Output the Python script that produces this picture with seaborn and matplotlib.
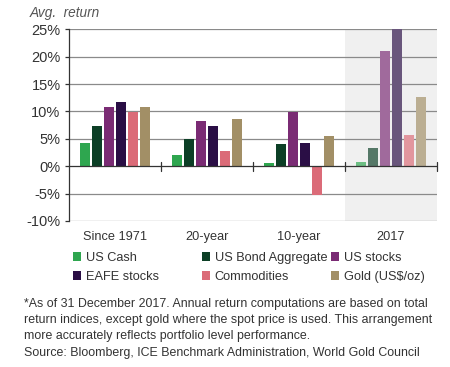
import matplotlib
matplotlib.use("Agg")
import matplotlib.pyplot as plt
import seaborn as sns
import pandas as pd
import numpy as np
from matplotlib.colors import to_rgb
from matplotlib.patches import Patch

periods = ["Since 1971", "20-year", "10-year", "2017"]
assets = ["US Cash", "US Bond Aggregate", "US stocks", "EAFE stocks", "Commodities", "Gold (US$/oz)"]
us_cash = [4.2, 2.1, 0.5, 0.8]
us_bond = [7.3, 4.9, 4.0, 3.4]
us_stocks = [10.9, 8.2, 9.9, 21.1]
eafe = [11.7, 7.3, 4.3, 25.0]
commodities = [9.9, 2.7, -5.3, 5.7]
gold = [10.8, 8.6, 5.6, 12.6]
y_ticks = [-10, -5, 0, 5, 10, 15, 20, 25]
colors = ["#2EA64F", "#0C3F26", "#7A2B74", "#2A0E45", "#DB6B78", "#A28F66"]

series = [us_cash, us_bond, us_stocks, eafe, commodities, gold]
rows = []
for a, vals in zip(assets, series):
    for p, v in zip(periods, vals):
        rows.append({"period": p, "asset": a, "value": v})
df = pd.DataFrame(rows)

sns.set_style("white")
plt.rcParams["font.family"] = ["Liberation Sans", "DejaVu Sans"]

fig = plt.figure(figsize=(4.5, 3.67), dpi=100)
ax = fig.add_axes([0.153, 0.398, 0.818, 0.522])

ax.axvspan(2.5, 3.5, color="#F0F0F0", zorder=0, lw=0)

sns.barplot(data=df, x="period", y="value", hue="asset", order=periods,
            hue_order=assets, palette=colors, width=0.78, gap=0.17,
            saturation=1, ax=ax, legend=False, zorder=3, errorbar=None)

bg = np.array(to_rgb("#F0F0F0"))
for p in ax.patches:
    cx = p.get_x() + p.get_width() / 2
    if cx > 2.5 and p.get_width() < 0.5:
        c = np.array(to_rgb(p.get_facecolor()))
        p.set_facecolor(tuple(0.68 * c + 0.32 * bg))
    p.set_linewidth(0)

ax.set_xlim(-0.5, 3.5)
ax.set_ylim(-10, 25)
ax.set_yticks(y_ticks)
ax.set_yticklabels([f"{t}%" for t in y_ticks], fontsize=10.5, color="#333333")
for t in y_ticks:
    if t != 0:
        ax.axhline(t, color="#8A8A8A", lw=0.9, zorder=1)
ax.axhline(0, color="#333333", lw=0.9, zorder=4)
for xb in [0.5, 1.5, 2.5, 3.5]:
    ax.plot([xb, xb], [-0.8, 0.8], color="#333333", lw=0.9, zorder=4, clip_on=False)

for s in ["top", "right", "bottom"]:
    ax.spines[s].set_visible(False)
ax.spines["left"].set_color("#333333")
ax.spines["left"].set_linewidth(0.9)
ax.tick_params(axis="y", length=3, width=0.9, color="#333333", pad=3, left=True)
ax.tick_params(axis="x", length=0, labelsize=9.2, labelcolor="#333333", pad=7)
ax.set_xlabel("")
ax.set_ylabel("")

fig.text(30 / 450, 1 - 13 / 367, "Avg.  return", fontsize=9.8, style="italic",
         color="#555555", va="center", ha="left")

handles = [Patch(facecolor=c, edgecolor="none", label=a) for a, c in zip(assets, colors)]
col_x = [73, 202, 331]
for i, x0 in enumerate(col_x):
    hs = [handles[i], handles[i + 3]]
    leg = fig.legend(handles=hs, ncol=1, loc="upper left",
                     bbox_to_anchor=(x0 / 450, 1 - 252 / 367), frameon=False,
                     fontsize=9.2, handlelength=0.65, handleheight=0.65,
                     handletextpad=0.35, labelspacing=0.55,
                     borderaxespad=0, borderpad=0)
    for t in leg.get_texts():
        t.set_color("#333333")

foot = ("*As of 31 December 2017. Annual return computations are based on total\n"
        "return indices, except gold where the spot price is used. This arrangement\n"
        "more accurately reflects portfolio level performance.")
fig.text(24 / 450, 1 - 297.5 / 367, foot, fontsize=8.9, color="#333333",
         va="top", ha="left", linespacing=1.47)
fig.text(24 / 450, 1 - 353 / 367,
         "Source: Bloomberg, ICE Benchmark Administration, World Gold Council",
         fontsize=8.9, color="#333333", va="center", ha="left")

fig.savefig("out.png", dpi=100)
